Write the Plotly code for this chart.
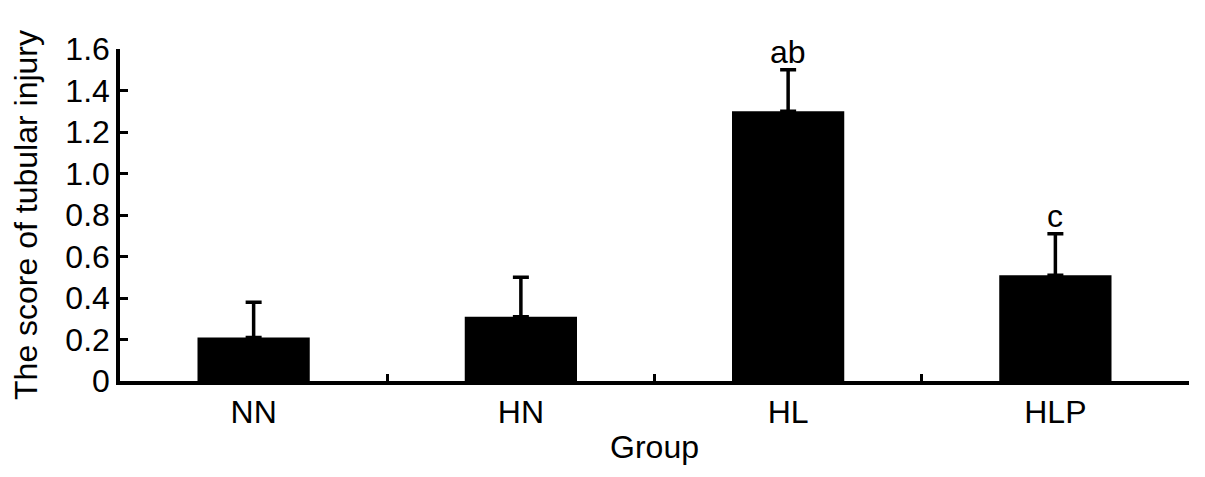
import plotly.graph_objects as go

groups = ["NN", "HN", "HL", "HLP"]
scores = [0.21, 0.31, 1.30, 0.51]
errors = [0.17, 0.19, 0.20, 0.20]
marks = ["", "", "ab", "c"]
y_ticks = [0, 0.2, 0.4, 0.6, 0.8, 1.0, 1.2, 1.4, 1.6]
y_tick_text = ["0", "0.2", "0.4", "0.6", "0.8", "1.0", "1.2", "1.4", "1.6"]

FONT = "Liberation Sans, Arial, sans-serif"
FS = 32

fig = go.Figure()
fig.add_trace(go.Bar(
    x=groups, y=scores, width=0.42,
    marker=dict(color="black", line=dict(color="black", width=0)),
    error_y=dict(type="data", symmetric=False, array=errors,
                 arrayminus=[0] * len(errors), color="black",
                 thickness=3.5, width=8),
    showlegend=False,
))

for g, s, e, m in zip(groups, scores, errors, marks):
    if m:
        fig.add_annotation(x=g, y=s + e, text=m, showarrow=False,
                           yanchor="bottom", yshift=-2,
                           font=dict(family=FONT, size=FS, color="black"))

fig.update_layout(
    width=1205, height=477,
    margin=dict(l=112, r=24, t=41, b=104),
    paper_bgcolor="white", plot_bgcolor="white",
    font=dict(family=FONT, color="black"),
    bargap=0.58,
)
fig.update_xaxes(
    type="category", tickson="boundaries", ticks="inside", ticklen=7,
    tickwidth=3, tickcolor="black",
    showline=True, linecolor="black", linewidth=3.5, showgrid=False,
    tickfont=dict(family=FONT, size=FS, color="black"),
    title=dict(text="Group", font=dict(family=FONT, size=FS, color="black"), standoff=7),
    range=[-0.5, 3.5],
)
fig.update_yaxes(
    range=[0, 1.6], tickvals=y_ticks, ticktext=y_tick_text,
    ticks="inside", ticklen=8, tickwidth=3, tickcolor="black",
    showline=True, linecolor="black", linewidth=3.5, showgrid=False,
    zeroline=False,
    tickfont=dict(family=FONT, size=FS, color="black"),
    title=dict(text="The score of tubular injury",
               font=dict(family=FONT, size=FS, color="black"), standoff=21),
)

fig.write_html("out.html")
